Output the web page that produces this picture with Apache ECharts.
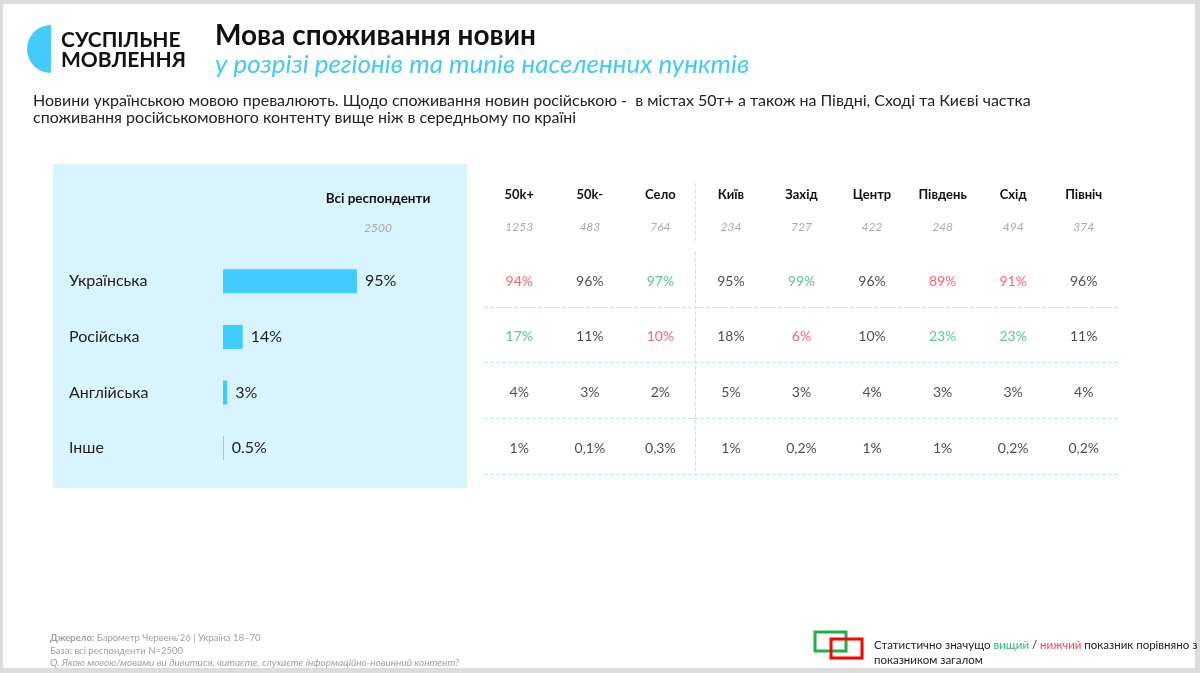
<!DOCTYPE html>
<html><head><meta charset="utf-8">
<script src="https://cdn.jsdelivr.net/npm/echarts@6/dist/echarts.min.js"></script>
<style>html,body{margin:0;padding:0;background:#fff}#c{width:1200px;height:673px}</style>
</head><body><div id="c"></div>
<script>
// ---- data ----
const languages = ['Українська', 'Російська', 'Англійська', 'Інше'];
const totalValues = [95, 14, 3, 0.5];
const totalLabel = 'Всі респонденти';
const totalN = 2500;
const regions = ['50k+', '50k-', 'Село', 'Київ', 'Захід', 'Центр', 'Південь', 'Схід', 'Північ'];
const regionN = [1253, 483, 764, 234, 727, 422, 248, 494, 374];
const ukrValues = [94, 96, 97, 95, 99, 96, 89, 91, 96];
const rusValues = [17, 11, 10, 18, 6, 10, 23, 23, 11];
const engValues = [4, 3, 2, 5, 3, 4, 3, 3, 4];
const otherValues = [1, 0.1, 0.3, 1, 0.2, 1, 1, 0.2, 0.2];
// significance vs total: 1 = higher, -1 = lower, 0 = not significant
const ukrSig = [-1, 0, 1, 0, 1, 0, -1, -1, 0];
const rusSig = [1, 0, -1, 0, -1, 0, 1, 1, 0];
const engSig = [0, 0, 0, 0, 0, 0, 0, 0, 0];
const otherSig = [0, 0, 0, 0, 0, 0, 0, 0, 0];
// group separator: boundary after settlement types (50k+, 50k-, Село)
const settlementGroupSize = 3;

// ---- styling ----
const FF = 'Lato, "Noto Sans", sans-serif';
const TXT = '#222222';
const RED = '#ff3b4a';
const GREEN = '#2fba6e';
const LINE = '#b9e8f7';
const BAR = '#40cdfd';

const tableRows = [ukrValues, rusValues, engValues, otherValues];
const tableSig = [ukrSig, rusSig, engSig, otherSig];
const tableData = [];
tableRows.forEach((row, r) => {
  row.forEach((v, i) => {
    const s = tableSig[r][i];
    tableData.push({
      value: [regions[i], languages[r], v],
      label: { color: s > 0 ? GREEN : (s < 0 ? RED : TXT) }
    });
  });
});

// split-line colours: only the boundary between groups is visible
const sepColors = [];
for (let i = 0; i <= regions.length; i++) sepColors.push(i === settlementGroupSize ? LINE : 'rgba(0,0,0,0)');

function txt(x, y, text, font, fill, extra) {
  return {
    type: 'text', x: x, y: y,
    style: Object.assign({ text: text, font: font, fill: fill,
      textAlign: 'left', textVerticalAlign: 'middle', align: 'left', verticalAlign: 'middle' }, extra || {})
  };
}

const chart = echarts.init(document.getElementById('c'), null, { renderer: 'canvas' });
chart.setOption({
  backgroundColor: '#dcdcdc',
  animation: false,
  grid: [
    { left: 223, top: 253.5, width: 141, height: 222.4 },
    { left: 484, top: 251.5, width: 635, height: 222.4 },
    { left: 484, top: 183, width: 635, height: 59 }
  ],
  xAxis: [
    { gridIndex: 0, type: 'value', min: 0, max: 100, show: false },
    {
      gridIndex: 1, type: 'category', position: 'top', data: regions,
      axisLine: { show: false },
      axisTick: { show: false },
      splitLine: { show: true, interval: 0,
        lineStyle: { color: sepColors, type: 'dashed', width: 1 } },
      axisLabel: {
        interval: 0, margin: 1,
        formatter: (v, idx) => '{h|' + v + '}\n{n|' + regionN[idx] + '}',
        rich: {
          h: { fontFamily: FF, fontWeight: 'bold', fontSize: 13, color: '#111', lineHeight: 20 },
          n: { fontFamily: FF, fontStyle: 'italic', fontSize: 12, color: '#aaaaaa', lineHeight: 46 }
        }
      }
    },
    {
      gridIndex: 2, type: 'category', data: regions,
      axisLine: { show: false }, axisTick: { show: false }, axisLabel: { show: false },
      splitLine: { show: true, interval: 0,
        lineStyle: { color: sepColors, type: 'dashed', width: 1 } }
    }
  ],
  yAxis: [
    {
      gridIndex: 0, type: 'category', inverse: true, data: languages,
      axisLine: { show: false }, axisTick: { show: false },
      axisLabel: { align: 'left', margin: 154, fontFamily: FF, fontSize: 16, color: TXT }
    },
    {
      gridIndex: 1, type: 'category', inverse: true, data: languages,
      axisLine: { show: false }, axisTick: { show: false }, axisLabel: { show: false },
      splitLine: { show: true, interval: (i) => i !== 0,
        lineStyle: { color: LINE, type: 'dashed', width: 1 } }
    },
    { gridIndex: 2, type: 'value', show: false, splitLine: { show: false } }
  ],
  series: [
    {
      type: 'bar', xAxisIndex: 0, yAxisIndex: 0, data: totalValues, barWidth: 24,
      itemStyle: { color: BAR },
      label: { show: true, position: 'right', distance: 8, fontFamily: FF, fontSize: 16, color: TXT,
        formatter: (p) => p.value + '%' }
    },
    {
      type: 'scatter', xAxisIndex: 1, yAxisIndex: 1, data: tableData, symbolSize: 1,
      itemStyle: { color: 'rgba(0,0,0,0)' },
      label: { show: true, position: 'inside', offset: [0, 2], fontFamily: FF, fontSize: 14,
        formatter: (p) => String(p.value[2]).replace('.', ',') + '%' }
    }
  ],
  graphic: [
    { type: 'rect', z: -100, shape: { x: 3, y: 4, width: 1192, height: 664 }, style: { fill: '#ffffff' } },
    { type: 'rect', z: -50, shape: { x: 53, y: 164, width: 414, height: 324 }, style: { fill: '#d8f4fe' } },
    { type: 'sector', shape: { cx: 51, cy: 49, r: 24, startAngle: Math.PI / 2, endAngle: Math.PI * 1.5 }, style: { fill: '#45cbfa' } },
    txt(61, 40, 'СУСПІЛЬНЕ', 'bold 21px ' + FF, '#111'),
    txt(61, 60, 'МОВЛЕННЯ', 'bold 21px ' + FF, '#111'),
    txt(215, 36, 'Мова споживання новин', 'bold 28px ' + FF, '#111'),
    txt(215, 65, 'у розрізі регіонів та типів населенних пунктів', 'italic 26px ' + FF, '#45c8f5'),
    txt(33, 101, 'Новини українською мовою превалюють. Щодо споживання новин російською -  в містах 50т+ а також на Півдні, Сході та Києві частка', '16px ' + FF, TXT),
    txt(33, 118, 'споживання російськомовного контенту вище ніж в середньому по країні', '16px ' + FF, TXT),
    txt(378, 199, totalLabel, 'bold 13.5px ' + FF, '#111', { textAlign: 'center', align: 'center' }),
    txt(378, 228, String(totalN), 'italic 12px ' + FF, '#aaaaaa', { textAlign: 'center', align: 'center' }),
    txt(50, 638, '{b|Джерело:} Барометр Червень’26 | Україна 18–70', '9.5px ' + FF, '#a0a0a0', {
      rich: { b: { fontWeight: 'bold', fontSize: 9.5, fontFamily: FF, fill: '#a0a0a0', color: '#a0a0a0' } } }),
    txt(50, 651, 'База: всі респонденти N=2500', '9.5px ' + FF, '#a0a0a0'),
    txt(50, 663, 'Q. Якою мовою/мовами ви дивитися, читаєте, слухаєте інформаційно-новинний контент?', 'italic 10px ' + FF, '#a0a0a0'),
    { type: 'rect', shape: { x: 815, y: 632, width: 31, height: 19 }, style: { fill: 'none', stroke: '#1db14b', lineWidth: 3 } },
    { type: 'rect', shape: { x: 831, y: 639, width: 31, height: 19 }, style: { fill: 'none', stroke: '#ff0000', lineWidth: 3 } },
    txt(874, 645, 'Статистично значущо {g|вищий} / {r|нижчий} показник порівняно з', '11.5px ' + FF, TXT, {
      rich: {
        g: { fontSize: 11.5, fontFamily: FF, fill: GREEN, color: GREEN },
        r: { fontSize: 11.5, fontFamily: FF, fill: RED, color: RED }
      } }),
    txt(874, 660, 'показником загалом', '11.5px ' + FF, TXT)
  ]
});
</script></body></html>
